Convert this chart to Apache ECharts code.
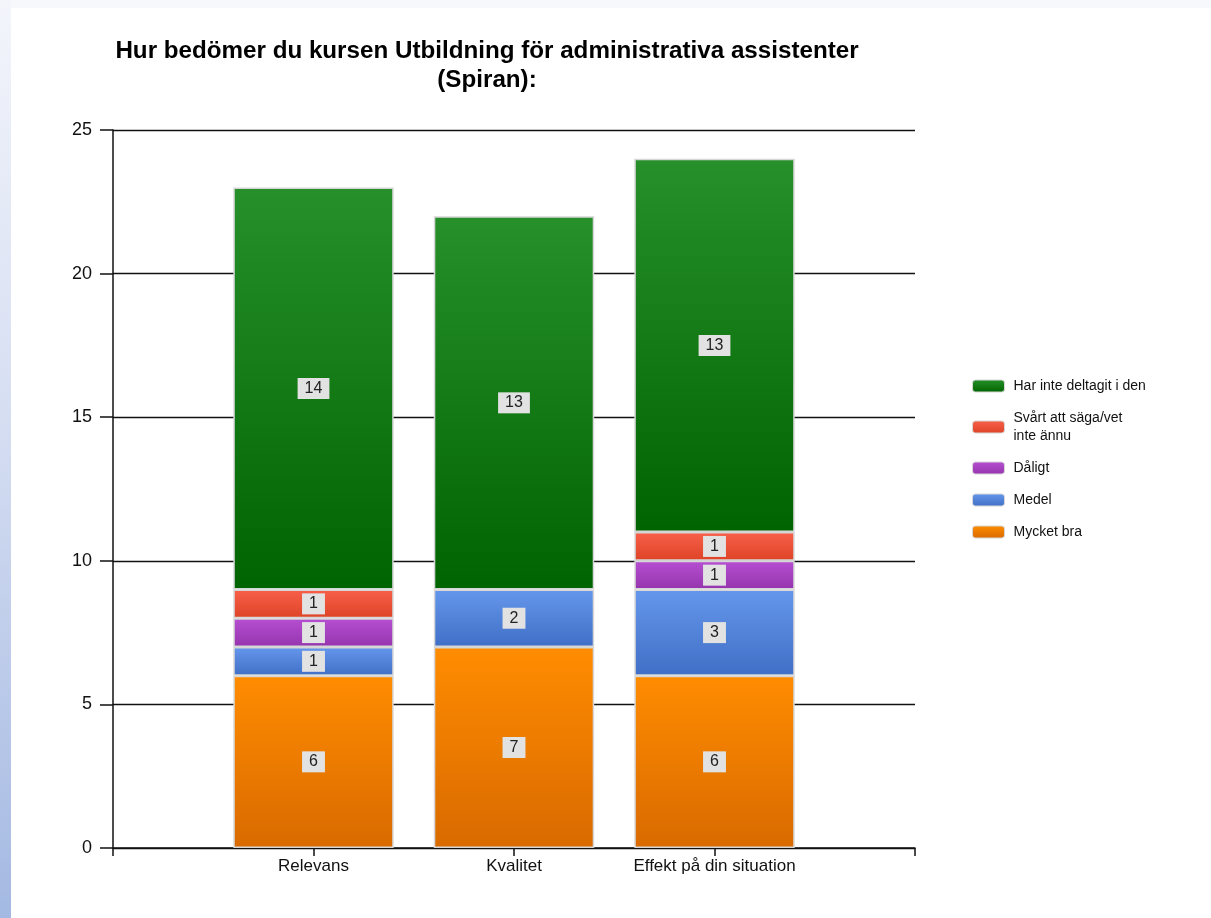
<!DOCTYPE html>
<html>
<head>
<meta charset="utf-8">
<script src="https://cdn.jsdelivr.net/npm/echarts@6/dist/echarts.min.js"></script>
<style>
  html, body { margin: 0; padding: 0; background: #ffffff; }
  #wrap { position: relative; width: 1211px; height: 918px; overflow: hidden; background: #ffffff; }
  #topstrip { position: absolute; left: 0; top: 0; width: 1211px; height: 8px; background: #f7f8fc; }
  #leftstrip { position: absolute; left: 0; top: 0; width: 11px; height: 918px;
    background: linear-gradient(to bottom, #f3f5fb 0%, #d6def2 45%, #a4b9e2 100%); }
  #chart { position: absolute; left: 0; top: 0; width: 1211px; height: 918px; }
</style>
</head>
<body>
<div id="wrap">
  <div id="topstrip"></div>
  <div id="leftstrip"></div>
  <div id="chart"></div>
</div>
<script>
// ---- data ----
const categories = ['', 'Relevans', 'Kvalitet', 'Effekt på din situation', ''];
const seriesNames = ['Mycket bra', 'Medel', 'Dåligt', 'Svårt att säga/vet inte ännu', 'Har inte deltagit i den'];
const mycketBra = ['-', 6, 7, 6, '-'];
const medel = ['-', 1, 2, 3, '-'];
const daligt = ['-', 1, '-', 1, '-'];
const svart = ['-', 1, '-', 1, '-'];
const harInte = ['-', 14, 13, 13, '-'];
const yTicks = [0, 5, 10, 15, 20, 25];

const FONT = '"Liberation Sans", Arial, sans-serif';
const grad = (top, bottom) => new echarts.graphic.LinearGradient(0, 0, 0, 1, [
  { offset: 0, color: top }, { offset: 1, color: bottom }
]);
const colors = [
  grad('#ff8c00', '#d96a00'),
  grad('#6597ec', '#3f6fc6'),
  grad('#b64fd2', '#9535ad'),
  grad('#f8604a', '#de4326'),
  grad('#27902a', '#006400')
];
const seriesData = [mycketBra, medel, daligt, svart, harInte];

const series = seriesNames.map((name, i) => ({
  name: name,
  type: 'bar',
  stack: 'total',
  barWidth: '80%',
  data: seriesData[i],
  itemStyle: { color: colors[i], borderColor: '#d6d6d6', borderWidth: 1.5 },
  emphasis: { disabled: true },
  label: {
    show: true,
    position: 'inside',
    fontFamily: FONT,
    fontSize: 16,
    color: '#222',
    backgroundColor: '#e2e2e2',
    padding: [3, 7, 2, 7],
    formatter: p => (p.value === '-' || p.value == null) ? '' : String(p.value)
  }
}));

const chart = echarts.init(document.getElementById('chart'), null, { renderer: 'canvas' });
chart.setOption({
  backgroundColor: 'transparent',
  animation: false,
  title: {
    text: 'Hur bedömer du kursen Utbildning för administrativa assistenter\n(Spiran):',
    left: 482,
    top: 32,
    textAlign: 'center',
    textStyle: { fontFamily: FONT, fontSize: 24.2, fontWeight: 'bold', color: '#000', lineHeight: 29 }
  },
  legend: {
    orient: 'vertical',
    left: 972,
    top: 377,
    padding: 0,
    itemWidth: 32,
    itemHeight: 12,
    itemGap: 14,
    data: seriesNames.slice().reverse(),
    formatter: n => n === 'Svårt att säga/vet inte ännu' ? 'Svårt att säga/vet\ninte ännu' : n,
    textStyle: { fontFamily: FONT, fontSize: 14, color: '#111', lineHeight: 18, padding: [0, 0, 0, 4] },
    itemStyle: { borderColor: '#d6d6d6', borderWidth: 1 }
  },
  grid: { left: 113, right: 296, top: 130, bottom: 70, containLabel: false },
  xAxis: {
    type: 'category',
    data: categories,
    boundaryGap: false,
    axisLine: { show: true, lineStyle: { color: '#111', width: 1.5 } },
    axisTick: { show: true, length: 8, alignWithLabel: true, lineStyle: { color: '#111', width: 1.5 } },
    axisLabel: { fontFamily: FONT, fontSize: 17, color: '#111', margin: 10, interval: 0 },
    splitLine: { show: false }
  },
  yAxis: {
    type: 'value',
    min: 0,
    max: 25,
    interval: 5,
    axisLine: { show: true, lineStyle: { color: '#111', width: 1.5 } },
    axisTick: { show: true, length: 13, lineStyle: { color: '#111', width: 1.5 } },
    axisLabel: { fontFamily: FONT, fontSize: 18, color: '#111', margin: 21,
      formatter: v => yTicks.includes(v) ? String(v) : '' },
    splitLine: { show: true, lineStyle: { color: '#111', width: 1.3 } }
  },
  series: series
});
</script>
</body>
</html>
